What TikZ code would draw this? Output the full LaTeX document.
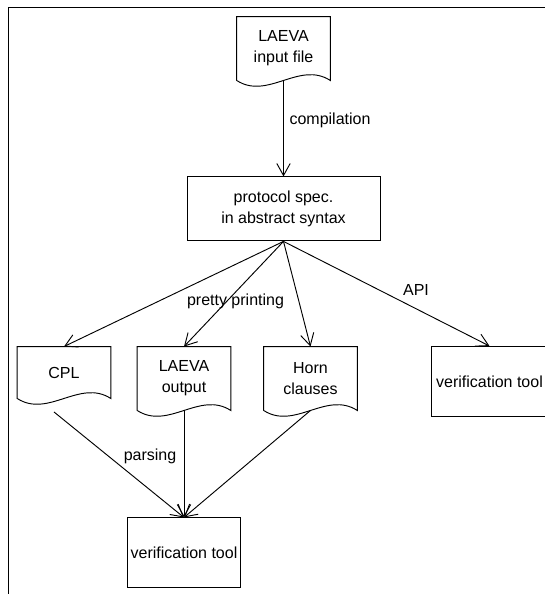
\documentclass[tikz,border=0pt]{standalone}
\usepackage{fontspec}
\setmainfont{Liberation Sans}
\usetikzlibrary{positioning,calc,arrows.meta}

\begin{document}
\begin{tikzpicture}[
    x=0.75pt, y=-0.75pt,
    font=\fontsize{12}{15.75}\selectfont,
    line width=0.7pt,
    docnode/.style={minimum width=69.5pt, minimum height=47.25pt, inner sep=0pt, align=center},
    specnode/.style={draw, minimum width=144.75pt, minimum height=48pt, inner sep=0pt, align=center},
    toolnode/.style={draw, minimum width=84.75pt, minimum height=52.5pt, inner sep=0pt, align=center},
    arr/.style={-{Straight Barb[length=9pt,width=10pt]}},
    lbl/.style={inner sep=0pt, text height=1.5ex, text depth=.25ex}
]
\useasboundingbox (0,0) rectangle (545,594);
\clip (0,0) rectangle (545,594);

% --- frame ---
\draw (8,620) -- (8,7) -- (570,7);

% --- top: input file and abstract syntax ---
\node[docnode] (inp) at (283.5,48.5) {LAEVA\\input file};
\node[specnode, below=72pt of inp] (spec) {protocol spec.\\in abstract syntax};

% --- generated documents ---
\node[docnode, minimum height=38.25pt] (cpl) at (64,372.5) {CPL};
\node[docnode] (out) at (184,378.5) {LAEVA\\output};
\node[docnode] (horn) at (310.5,378.5) {Horn\\clauses};

% --- verification tools ---
\node[toolnode, minimum width=86.5pt] (rtool) at (489.5,381.5) {verification tool};
\node[toolnode, below=80.25pt of out] (tool) {verification tool};

% --- document outlines (wavy bottom) ---
\foreach \d in {inp,cpl,out,horn}{
  \draw (\d.south west) -- (\d.north west) -- (\d.north east) -- (\d.south east)
    .. controls ($(\d.south east)!0.33!(\d.south west)+(0,-20)$) and ($(\d.south west)!0.33!(\d.south east)+(0,20)$) .. (\d.south west) -- cycle;
}

% --- edges ---
\draw[arr] (inp.south) -- (spec.north);
\foreach \t in {cpl,out,horn,rtool}{
  \draw[arr] (spec.south) -- (\t.north);
}
\draw[arr] ($(cpl.south)+(-10,13.5)$) -- (tool.north);
\draw[arr] (out.south) -- (tool.north);
\draw[arr] (horn.south) -- (tool.north);

% --- labels ---
\node[lbl] (compl) at (330,120) {compilation};
\node[lbl] (pplbl) at (235.5,301) {pretty printing};
\node[lbl] (apilbl) at (416,291) {API};
\node[lbl] (parselbl) at (150,456) {parsing};

\end{tikzpicture}
\end{document}
